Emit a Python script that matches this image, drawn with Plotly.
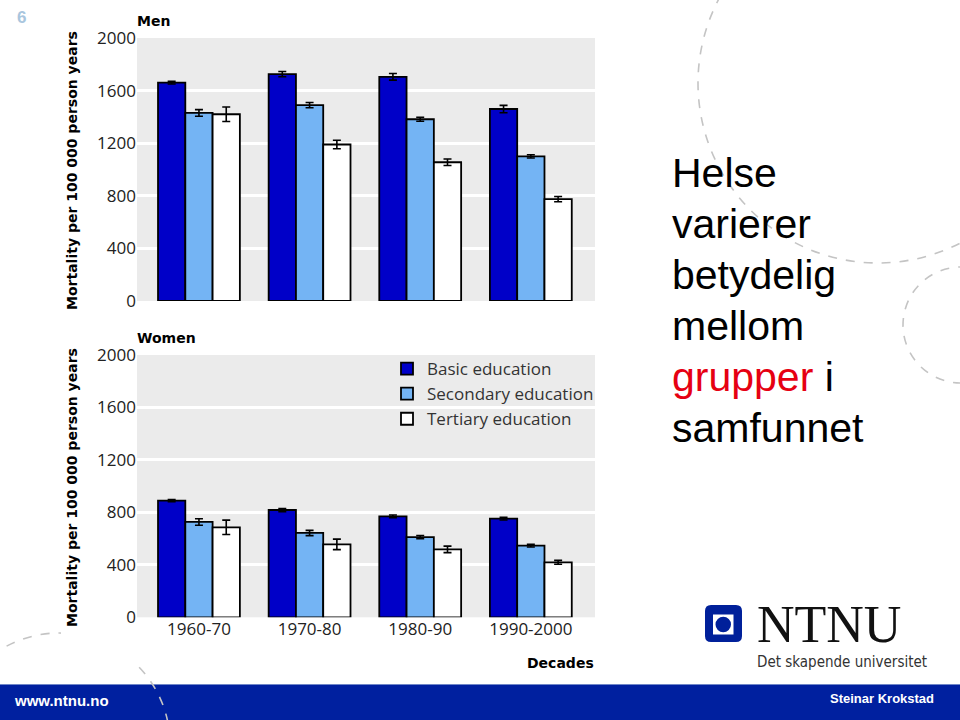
import plotly.graph_objects as go

# ---------------- data ----------------
decades = ["1960-70", "1970-80", "1980-90", "1990-2000"]
series_names = ["Basic education", "Secondary education", "Tertiary education"]

men_basic = [1660, 1725, 1705, 1460]
men_secondary = [1430, 1490, 1382, 1100]
men_tertiary = [1420, 1190, 1055, 775]
men_basic_err = [10, 20, 25, 28]
men_secondary_err = [25, 20, 15, 12]
men_tertiary_err = [55, 32, 25, 20]

women_basic = [889, 818, 770, 752]
women_secondary = [727, 643, 612, 546]
women_tertiary = [686, 556, 518, 419]
women_basic_err = [8, 12, 10, 10]
women_secondary_err = [25, 20, 12, 10]
women_tertiary_err = [55, 40, 25, 15]

y_ticks = [0, 400, 800, 1200, 1600, 2000]

colors = ["#0000c8", "#74b4f4", "#ffffff"]

W, H = 960, 720


def px(x):
    return x / W


def py(y):
    return 1 - y / H


fig = go.Figure()

men_vals = [men_basic, men_secondary, men_tertiary]
men_errs = [men_basic_err, men_secondary_err, men_tertiary_err]
women_vals = [women_basic, women_secondary, women_tertiary]
women_errs = [women_basic_err, women_secondary_err, women_tertiary_err]

for i, name in enumerate(series_names):
    fig.add_trace(go.Bar(
        x=decades, y=men_vals[i], name=name, legendgroup=name, showlegend=False,
        marker=dict(color=colors[i], line=dict(color="#000000", width=1.8)),
        error_y=dict(type="data", array=men_errs[i], color="#000000", thickness=1.6, width=4),
        xaxis="x", yaxis="y", offsetgroup=str(i),
    ))
for i, name in enumerate(series_names):
    fig.add_trace(go.Bar(
        x=decades, y=women_vals[i], name=name, legendgroup=name, showlegend=True,
        marker=dict(color=colors[i], line=dict(color="#000000", width=1.8)),
        error_y=dict(type="data", array=women_errs[i], color="#000000", thickness=1.6, width=4),
        xaxis="x2", yaxis="y2", offsetgroup=str(i),
    ))

tick_font = dict(family="Open Sans, DejaVu Sans, sans-serif", size=17, color="#222222")
xdom = [px(137), px(595)]

common_x = dict(domain=xdom, type="category", range=[-0.56, 3.58], showgrid=False,
                zeroline=False, showline=False, ticks="", tickfont=tick_font,
                automargin=False, fixedrange=True)
common_y = dict(range=[0, 2000], tickvals=y_ticks, showgrid=True, gridcolor="#ffffff",
                gridwidth=2.5, zeroline=False, showline=False, ticks="",
                tickfont=tick_font, automargin=False, fixedrange=True)

fig.update_layout(
    width=W, height=H,
    margin=dict(l=0, r=0, t=0, b=0),
    paper_bgcolor="#ffffff",
    plot_bgcolor="#ebebeb",
    barmode="group", bargap=0.26, bargroupgap=0,
    showlegend=True,
    legend=dict(x=px(387), y=py(351), xanchor="left", yanchor="top",
                bgcolor="rgba(0,0,0,0)", traceorder="normal",
                font=dict(family="Open Sans, DejaVu Sans, sans-serif", size=17, color="#333333")),
    xaxis=dict(common_x, anchor="y", showticklabels=False),
    yaxis=dict(common_y, domain=[py(301), py(38)], anchor="x"),
    xaxis2=dict(common_x, anchor="y2", showticklabels=True),
    yaxis2=dict(common_y, domain=[py(617.3), py(355)], anchor="x2"),
)

title_font = dict(family="DejaVu Sans, sans-serif", size=14, color="#000000")
ann = []


def add_text(text, x, y, font, xanchor="left", yanchor="middle", textangle=0):
    ann.append(dict(text=text, x=px(x), y=py(y), xref="paper", yref="paper",
                    xanchor=xanchor, yanchor=yanchor, showarrow=False, font=font,
                    textangle=textangle))


add_text("<b>Men</b>", 135, 21, title_font)
add_text("<b>Women</b>", 135, 338, title_font)
add_text("<b>Decades</b>", 596, 663, title_font, xanchor="right")
add_text("<b>Mortality per 100 000 person years</b>", 72, 171, title_font,
         xanchor="center", textangle=-90)
add_text("<b>Mortality per 100 000 person years</b>", 72, 488, title_font,
         xanchor="center", textangle=-90)

# slide text
slide_font = dict(family="Liberation Sans, Arial, sans-serif", size=41, color="#000000")
lines = ["Helse", "varierer", "betydelig", "mellom",
         "<span style='color:#e60012'>grupper</span> i", "samfunnet"]
for k, t in enumerate(lines):
    add_text(t, 670, 172.5 + 51 * k, slide_font)

add_text("<b>6</b>", 21, 17, dict(family="Liberation Sans, Arial, sans-serif", size=17,
                                  color="#a9c6de"), xanchor="center")
add_text("<b>www.ntnu.no</b>", 12, 700, dict(family="Liberation Sans, Arial, sans-serif",
                                            size=15, color="#ffffff"))
add_text("<b>Steinar Krokstad</b>", 936, 698, dict(family="Liberation Sans, Arial, sans-serif",
                                                   size=13, color="#ffffff"), xanchor="right")
add_text("NTNU", 755, 624.3, dict(family="Liberation Serif, Times New Roman, serif",
                                  size=52, color="#111111"))
add_text("Det skapende universitet", 755, 662,
         dict(family="Liberation Sans Narrow, DejaVu Sans Condensed, Roboto, sans-serif",
              size=15, color="#333333"))

fig.update_layout(annotations=ann)

shapes = []
# bottom band
shapes.append(dict(type="rect", xref="paper", yref="paper", x0=0, x1=1,
                   y0=py(720), y1=py(684), fillcolor="#00209f", line=dict(width=0),
                   layer="above"))
shapes.append(dict(type="line", xref="paper", yref="paper", x0=0, x1=1,
                   y0=py(684.5), y1=py(684.5), line=dict(color="#6f86c8", width=1),
                   layer="above"))


def circle(cx, cy, r):
    return dict(type="circle", xref="paper", yref="paper",
                x0=px(cx - r), x1=px(cx + r), y0=py(cy + r), y1=py(cy - r),
                line=dict(color="#c4c4c4", width=1.6, dash="dash"), layer="above")


shapes.append(circle(878, 83, 180))
shapes.append(circle(961, 325, 58))
shapes.append(circle(59, 744, 111))
# chart picture area hides part of the lower-left circle
shapes.append(dict(type="rect", xref="paper", yref="paper", x0=px(61), x1=px(136),
                   y0=py(676), y1=py(626), fillcolor="#ffffff", line=dict(width=0),
                   layer="above"))

# NTNU logo mark
x0, x1, y0, y1, rr = 705, 742, 605, 642, 6
path = (f"M{px(x0 + rr)},{py(y0)} L{px(x1 - rr)},{py(y0)} Q{px(x1)},{py(y0)} {px(x1)},{py(y0 + rr)} "
        f"L{px(x1)},{py(y1 - rr)} Q{px(x1)},{py(y1)} {px(x1 - rr)},{py(y1)} "
        f"L{px(x0 + rr)},{py(y1)} Q{px(x0)},{py(y1)} {px(x0)},{py(y1 - rr)} "
        f"L{px(x0)},{py(y0 + rr)} Q{px(x0)},{py(y0)} {px(x0 + rr)},{py(y0)} Z")
shapes.append(dict(type="path", xref="paper", yref="paper", path=path,
                   fillcolor="#00209a", line=dict(width=0), layer="above"))
shapes.append(dict(type="rect", xref="paper", yref="paper", x0=px(713), x1=px(733.5),
                   y0=py(634.5), y1=py(614.5), fillcolor="#ffffff", line=dict(width=0),
                   layer="above"))
shapes.append(dict(type="circle", xref="paper", yref="paper", x0=px(715.5), x1=px(731),
                   y0=py(632.3), y1=py(616.8), fillcolor="#00209a", line=dict(width=0),
                   layer="above"))

fig.update_layout(shapes=shapes)

# remove the page's default body margin so the 960x720 figure fills the window
fig.write_html("out.html",
               config={"displayModeBar": False},
               post_script="document.body.style.margin='0';document.body.style.overflow='hidden';")
